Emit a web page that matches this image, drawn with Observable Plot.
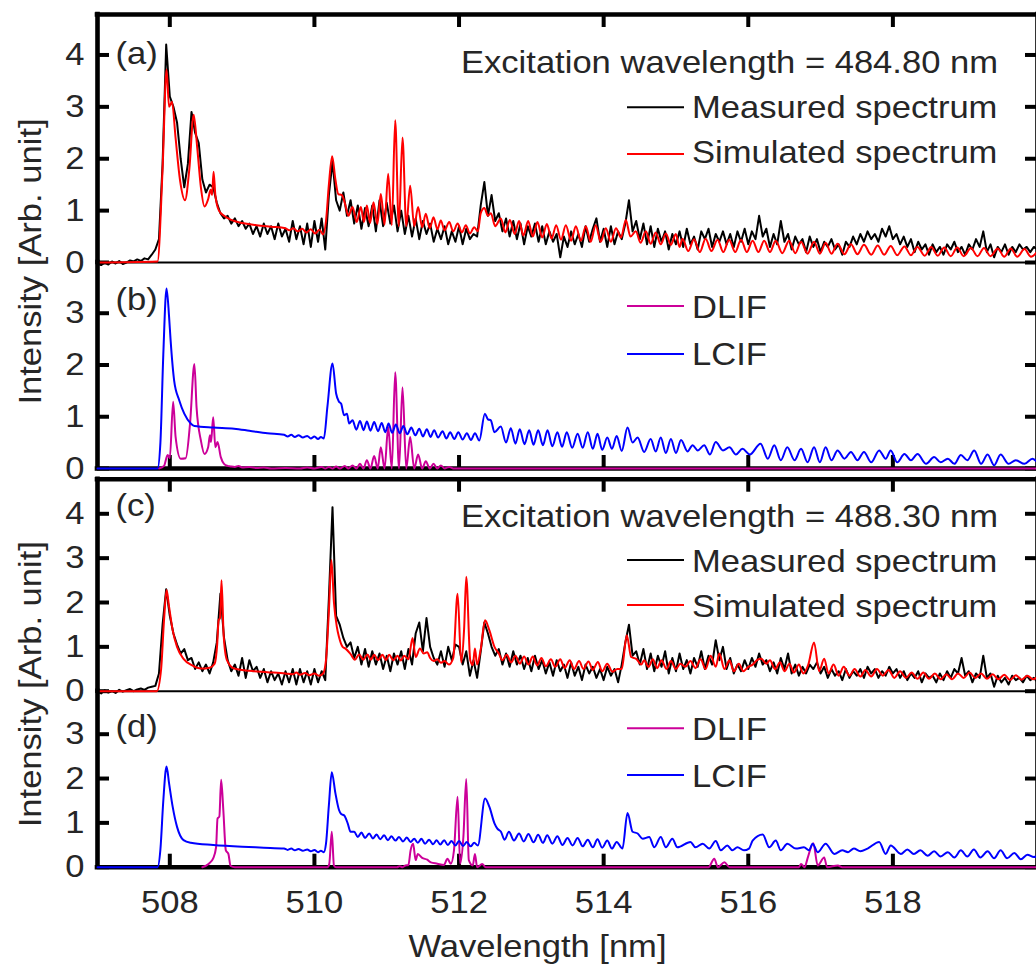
<!DOCTYPE html>
<html><head><meta charset="utf-8">
<script src="https://cdn.jsdelivr.net/npm/d3@7"></script>
<script src="https://cdn.jsdelivr.net/npm/@observablehq/plot@0.6"></script>
<style>
html,body{margin:0;padding:0;background:#fff;overflow:hidden}
#fig{position:relative;width:1036px;height:964px;overflow:hidden;background:#fff}
#fig svg{position:absolute;left:0;top:0;max-width:none!important;background:transparent!important;overflow:visible}
</style></head><body><div id="fig"></div>
<script>
// ---------------- DATA ----------------
const wlRange = [507, 520];
const xTicks = [508, 510, 512, 514, 516, 518];
const yTicksTall = [0, 1, 2, 3, 4];
const yTicksShort = [0, 1, 2, 3];
const xTitle = "Wavelength [nm]";
const yTitle = "Intensity [Arb. unit]";
const panelLabels = ["(a)", "(b)", "(c)", "(d)"];
const excitation = ["Excitation wavelength = 484.80 nm", "Excitation wavelength = 488.30 nm"];
const seriesNames = ["Measured spectrum", "Simulated spectrum", "DLIF", "LCIF"];

// measured spectra sampled every 0.05 nm from 507.00 nm
const measStart = 507, measStep = 0.05;
const measuredA = [
-0.03,-0.05,0.00,-0.04,0.02,-0.02,0.03,-0.03,0.00,0.04,0.02,0.06,0.03,0.08,0.06,0.15,0.25,0.45,1.90,4.20,
3.20,3.00,2.70,2.00,1.45,1.90,2.90,2.50,2.30,1.60,1.35,1.50,1.45,1.15,0.95,0.85,0.90,0.75,0.85,0.70,
0.80,0.65,0.75,0.55,0.70,0.50,0.75,0.55,0.70,0.45,0.75,0.50,0.65,0.40,0.80,0.45,0.70,0.35,0.75,0.30,
0.80,0.40,0.85,0.25,1.30,1.95,1.20,1.00,1.35,0.90,1.20,0.75,1.10,0.65,1.05,0.70,1.10,0.60,1.20,0.70,
1.15,0.75,1.10,0.60,1.00,0.55,0.90,0.50,0.85,0.45,0.80,0.55,0.75,0.40,0.65,0.45,0.70,0.35,0.60,0.40,
0.70,0.35,0.65,0.45,0.55,0.50,1.10,1.55,0.90,1.30,0.80,0.95,0.60,0.85,0.50,0.80,0.45,0.75,0.35,0.70,
0.50,0.75,0.40,0.70,0.35,0.60,0.40,0.55,0.10,0.50,0.30,0.60,0.35,0.55,0.30,0.70,0.40,0.65,0.85,0.40,
0.65,0.30,0.70,0.35,0.60,0.45,0.75,1.20,0.60,0.80,0.45,0.75,0.35,0.70,0.30,0.65,0.40,0.60,0.25,0.55,
0.35,0.60,0.30,0.65,0.35,0.50,0.25,0.60,0.45,0.65,0.30,0.55,0.40,0.60,0.35,0.55,0.30,0.60,0.40,0.65,
0.35,0.60,0.45,0.90,0.50,0.65,0.30,0.55,0.35,0.80,0.40,0.55,0.25,0.50,0.35,0.45,0.20,0.50,0.30,0.45,
0.20,0.40,0.30,0.45,0.25,0.35,0.15,0.40,0.30,0.50,0.35,0.55,0.40,0.60,0.45,0.55,0.40,0.65,0.50,0.70,
0.45,0.55,0.35,0.50,0.30,0.45,0.20,0.40,0.25,0.35,0.15,0.35,0.20,0.30,0.15,0.35,0.25,0.40,0.20,0.30,
0.15,0.35,0.25,0.45,0.30,0.60,0.20,0.35,0.10,0.30,0.20,0.35,0.15,0.30,0.20,0.35,0.25,0.30,0.20,0.30,0.25];
const measuredC = [
-0.02,-0.05,0.02,-0.03,0.00,-0.04,0.03,-0.01,0.02,0.05,0.00,0.04,0.06,0.03,0.08,0.10,0.12,0.40,1.50,2.30,
1.70,1.30,1.05,0.85,0.95,0.70,0.75,0.50,0.65,0.45,0.60,0.40,0.65,1.10,2.20,1.20,0.70,0.45,0.60,0.35,
0.75,0.30,0.70,0.45,0.55,0.30,0.50,0.20,0.45,0.25,0.40,0.15,0.45,0.20,0.50,0.15,0.50,0.20,0.45,0.15,
0.50,0.20,0.45,0.25,2.10,4.15,1.70,1.50,1.20,1.00,1.10,0.75,1.00,0.60,0.95,0.55,0.90,0.60,0.85,0.50,
0.80,0.45,0.85,0.60,0.90,0.50,0.95,0.60,1.30,1.55,0.90,1.65,1.00,0.75,0.60,0.90,0.55,1.00,0.70,1.05,
1.00,0.60,0.90,0.35,0.70,0.30,0.90,1.55,1.30,1.00,0.80,0.95,0.60,0.85,0.55,0.90,0.60,0.80,0.50,0.75,
0.45,0.80,0.50,0.70,0.40,0.65,0.35,0.70,0.45,0.60,0.30,0.65,0.35,0.55,0.25,0.60,0.40,0.55,0.30,0.50,
0.25,0.55,0.35,0.50,0.20,0.60,1.10,1.50,0.80,0.90,0.60,0.95,0.50,0.85,0.45,0.80,0.55,0.90,0.40,0.75,
0.45,0.85,0.50,0.70,0.40,0.75,0.55,0.90,0.50,0.80,0.60,1.15,0.70,1.00,0.50,0.75,0.40,0.60,0.45,0.70,
0.50,0.75,0.55,0.85,0.60,0.70,0.45,0.65,0.40,0.75,0.50,0.85,0.40,0.60,0.35,0.55,0.40,0.60,0.50,0.65,
0.40,0.55,0.30,0.50,0.35,0.45,0.25,0.50,0.30,0.45,0.35,0.50,0.30,0.55,0.40,0.50,0.30,0.45,0.35,0.55,
0.40,0.50,0.30,0.45,0.25,0.40,0.30,0.45,0.20,0.40,0.30,0.35,0.20,0.40,0.25,0.45,0.30,0.50,0.40,0.75,
0.35,0.45,0.20,0.40,0.30,0.80,0.30,0.40,0.10,0.35,0.20,0.30,0.15,0.35,0.25,0.30,0.20,0.35,0.25,0.30,0.20];

// simulated spectra: [wavelength nm, intensity] at maxima / minima
const simulatedA = [[507.0,0],[507.83,0.02],[507.90,1.8],[507.955,3.72],[507.99,3.0],[508.03,3.1],[508.08,2.4],[508.14,1.6],[508.21,1.2],[508.27,1.8],[508.33,2.85],[508.38,2.2],[508.43,1.45],[508.48,1.08],[508.53,1.22],[508.565,1.4],[508.585,1.3],[508.605,1.75],[508.63,1.3],[508.68,1.0],[508.75,0.9],[508.85,0.82],[509.0,0.76],[509.2,0.72],[509.4,0.69],[509.6,0.66],[509.65,0.62],[509.71,0.66],[509.77,0.6],[509.83,0.65],[509.89,0.58],[509.95,0.64],[510.01,0.56],[510.07,0.63],[510.12,0.54],[510.16,0.8],[510.20,1.5],[510.245,2.05],[510.29,1.6],[510.33,1.32],[510.38,1.3],[510.42,1.15],[510.47,0.9],
[510.527,1.07],[510.585,0.78],[510.642,1.07],[510.685,0.78],[510.725,1.1],[510.77,0.76],[510.817,1.16],[510.87,0.74],[510.918,1.32],[510.97,0.73],[511.02,1.71],[511.07,0.72],[511.117,2.74],[511.167,0.7],[511.218,2.41],[511.27,0.7],[511.324,1.48],[511.38,0.7],[511.434,1.07],[511.49,0.68],[511.54,0.94],[511.595,0.66],[511.647,0.87],[511.70,0.64],[511.748,0.81],[511.80,0.62],[511.864,0.78],[511.92,0.6],[511.98,0.75],[512.04,0.58],[512.094,0.72],[512.15,0.56],[512.21,0.68],[512.26,0.6],[512.30,0.95],[512.35,1.05],[512.40,0.9],[512.44,0.95],[512.50,0.7],
[512.578,0.85],[512.64,0.58],[512.703,0.82],[512.77,0.55],[512.83,0.8],[512.89,0.52],[512.956,0.8],[513.02,0.5],[513.085,0.78],[513.15,0.48],[513.214,0.74],[513.28,0.46],[513.343,0.72],[513.41,0.44],[513.477,0.72],[513.55,0.42],[513.615,0.7],[513.685,0.42],[513.754,0.7],[513.82,0.4],[513.89,0.72],[513.96,0.4],[514.03,0.66],[514.10,0.4],[514.17,0.66],[514.24,0.48],[514.307,0.82],[514.37,0.5],[514.445,0.6],[514.51,0.38],[514.584,0.6],[514.65,0.36],[514.72,0.58],[514.79,0.35],[514.86,0.56],[514.93,0.34],[514.998,0.55],[515.05,0.3],[515.09,0.46],
[515.17,0.22],[515.25,0.45],[515.33,0.2],[515.41,0.46],[515.49,0.22],[515.575,0.44],[515.655,0.2],[515.735,0.44],[515.82,0.2],[515.90,0.44],[515.98,0.2],[516.06,0.42],[516.14,0.2],[516.22,0.42],[516.30,0.2],[516.38,0.42],[516.47,0.18],[516.565,0.42],[516.65,0.18],[516.73,0.40],[516.82,0.17],[516.91,0.40],[516.99,0.17],[517.07,0.38],[517.15,0.17],[517.235,0.36],[517.33,0.16],[517.42,0.35],[517.51,0.16],[517.60,0.34],[517.70,0.15],[517.79,0.33],[517.88,0.15],[517.97,0.32],[518.06,0.14],[518.16,0.31],[518.25,0.14],[518.34,0.3],[518.44,0.13],[518.53,0.3],[518.62,0.13],[518.71,0.29],[518.80,0.12],[518.89,0.29],[518.98,0.12],[519.08,0.28],[519.17,0.12],[519.26,0.28],[519.35,0.12],[519.45,0.27],[519.54,0.11],[519.63,0.27],[519.72,0.11],[519.82,0.26],[519.91,0.11],[520.0,0.22]];

const simulatedC = [[507.0,0],[507.82,0],[507.88,0.5],[507.92,1.6],[507.955,2.28],[507.99,1.9],[508.04,1.37],[508.10,1.0],[508.19,0.73],[508.31,0.58],[508.43,0.51],[508.55,0.53],[508.62,0.62],[508.655,1.05],[508.675,1.6],[508.695,1.65],[508.715,2.5],[508.745,1.25],[508.79,0.7],[508.89,0.51],[509.1,0.46],[509.35,0.43],[509.6,0.4],[509.7,0.38],[509.75,0.42],[509.8,0.37],[509.87,0.41],[509.93,0.36],[510.0,0.4],[510.06,0.35],[510.12,0.4],[510.16,0.7],[510.20,1.8],[510.235,2.96],[510.27,2.0],[510.31,1.45],[510.34,1.22],[510.39,1.0],[510.43,0.96],
[510.503,0.83],[510.56,0.71],[510.618,0.83],[510.675,0.71],[510.734,0.83],[510.78,0.71],[510.826,0.82],[510.88,0.7],[510.94,0.82],[510.99,0.7],[511.033,0.82],[511.09,0.7],[511.149,0.8],[511.195,0.69],[511.24,0.8],[511.30,0.72],[511.357,1.2],[511.40,0.77],[511.46,0.96],[511.51,0.85],[511.56,0.88],[511.60,0.75],[511.65,0.68],[511.70,0.72],[511.75,0.64],[511.80,0.68],[511.86,0.6],[511.92,0.75],[511.98,2.2],[512.03,0.65],[512.07,1.4],[512.10,2.58],[512.155,0.7],[512.19,0.59],[512.22,0.96],[512.25,0.6],[512.30,0.95],[512.36,1.6],[512.42,1.37],[512.49,1.0],[512.55,0.85],
[512.60,0.7],[512.66,0.82],[512.72,0.65],[512.78,0.8],[512.84,0.62],[512.90,0.78],[512.96,0.6],[513.02,0.78],[513.08,0.58],[513.14,0.75],[513.20,0.56],[513.27,0.72],[513.33,0.55],[513.40,0.72],[513.46,0.52],[513.53,0.7],[513.59,0.5],[513.66,0.68],[513.72,0.5],[513.79,0.67],[513.85,0.48],[513.92,0.66],[513.98,0.45],[514.05,0.62],[514.12,0.44],[514.19,0.5],[514.25,0.5],[514.32,1.26],[514.38,0.77],[514.45,0.73],[514.52,0.6],[514.56,0.7],[514.62,0.55],[514.68,0.72],[514.74,0.52],[514.80,0.7],[514.87,0.5],[514.93,0.68],[515.0,0.5],[515.06,0.62],[515.13,0.55],[515.2,0.68],[515.27,0.52],[515.34,0.72],[515.41,0.5],[515.48,0.8],[515.55,0.55],[515.6,0.85],[515.67,0.5],[515.74,0.7],[515.8,0.45],[515.87,0.62],[515.93,0.45],[516.0,0.55],[516.06,0.6],[516.12,0.7],[516.18,0.73],[516.25,0.62],[516.3,0.7],[516.37,0.5],[516.44,0.65],[516.5,0.45],[516.57,0.62],[516.63,0.42],[516.7,0.6],[516.76,0.4],[516.83,0.6],[516.91,1.1],[516.98,0.45],[517.05,0.73],[517.11,0.4],[517.18,0.6],[517.25,0.35],[517.32,0.55],[517.4,0.35],[517.47,0.5],[517.55,0.33],[517.62,0.48],[517.7,0.33],[517.78,0.5],[517.86,0.35],[517.94,0.48],[518.02,0.3],[518.1,0.45],[518.18,0.3],[518.26,0.42],[518.34,0.28],[518.42,0.42],[518.5,0.28],[518.58,0.4],[518.66,0.27],[518.74,0.38],[518.82,0.27],[518.9,0.4],[518.98,0.3],[519.06,0.42],[519.14,0.3],[519.22,0.4],[519.3,0.28],[519.38,0.38],[519.46,0.27],[519.54,0.37],[519.62,0.25],[519.7,0.36],[519.78,0.26],[519.86,0.35],[519.94,0.27],[520.0,0.32]];

const lcifB = [[507.0,0],[507.83,0],[507.87,0.5],[507.91,2.2],[507.955,3.48],[507.99,2.93],[508.01,2.5],[508.06,1.7],[508.13,1.32],[508.2,1.06],[508.29,0.87],[508.34,0.82],[508.6,0.79],[508.89,0.77],[509.1,0.73],[509.35,0.68],[509.58,0.65],[509.63,0.62],[509.68,0.65],[509.73,0.61],[509.78,0.64],[509.84,0.6],[509.9,0.63],[509.95,0.58],[510.0,0.62],[510.05,0.57],[510.09,0.61],[510.13,0.58],[510.18,1.2],[510.25,2.03],[510.30,1.45],[510.34,1.29],[510.37,1.25],[510.41,1.03],[510.45,1.06],[510.48,0.87],
[510.527,0.93],[510.58,0.75],[510.63,0.92],[510.68,0.74],[510.725,0.91],[510.775,0.73],[510.826,0.9],[510.88,0.72],[510.93,0.88],[510.98,0.7],[511.025,0.87],[511.075,0.69],[511.126,0.85],[511.18,0.68],[511.23,0.82],[511.285,0.66],[511.34,0.79],[511.395,0.64],[511.45,0.77],[511.50,0.62],[511.555,0.76],[511.605,0.61],[511.656,0.74],[511.71,0.6],[511.772,0.72],[511.825,0.58],[511.877,0.7],[511.935,0.57],[511.99,0.7],[512.05,0.56],[512.108,0.68],[512.165,0.55],[512.22,0.68],[512.28,0.54],[512.357,1.06],[512.40,0.95],[512.44,0.93],[512.49,0.7],
[512.578,0.81],[512.65,0.5],[512.716,0.78],[512.78,0.48],[512.84,0.76],[512.905,0.47],[512.97,0.74],[513.03,0.46],[513.094,0.74],[513.16,0.45],[513.224,0.74],[513.29,0.43],[513.36,0.7],[513.425,0.42],[513.49,0.7],[513.565,0.4],[513.64,0.67],[513.71,0.4],[513.78,0.7],[513.85,0.38],[513.915,0.67],[513.98,0.36],[514.05,0.6],[514.115,0.38],[514.18,0.63],[514.25,0.34],[514.33,0.79],[514.40,0.5],[514.47,0.6],[514.56,0.32],[514.65,0.57],[514.72,0.33],[514.79,0.6],[514.86,0.3],[514.93,0.57],[515.0,0.3],[515.07,0.55],
[515.16,0.33],[515.23,0.45],[515.3,0.35],[515.39,0.45],[515.47,0.27],[515.55,0.51],[515.65,0.35],[515.74,0.41],[515.83,0.27],[515.92,0.38],[516.02,0.27],[516.17,0.48],[516.27,0.19],[516.36,0.45],[516.45,0.16],[516.54,0.41],[516.64,0.16],[516.73,0.38],[516.82,0.12],[516.91,0.41],[516.99,0.12],[517.07,0.41],[517.15,0.16],[517.235,0.35],[517.33,0.19],[517.42,0.32],[517.51,0.16],[517.6,0.32],[517.7,0.12],[517.81,0.35],[517.9,0.19],[517.97,0.35],[518.06,0.12],[518.16,0.28],[518.25,0.16],[518.34,0.28],[518.46,0.09],[518.57,0.22],[518.66,0.12],[518.76,0.19],[518.85,0.09],[518.94,0.26],[519.03,0.16],[519.125,0.35],[519.22,0.09],[519.31,0.27],[519.4,0.06],[519.49,0.27],[519.6,0.09],[519.7,0.16],[519.82,0.09],[519.93,0.19],[520.0,0.12]];

const dlifB = [[507.85,0],[507.92,0.05],[507.97,0.26],[508.0,0.2],[508.046,1.29],[508.08,0.61],[508.15,0.19],[508.22,0.2],[508.28,0.87],[508.34,2.02],[508.37,1.18],[508.43,0.54],[508.48,0.28],[508.53,0.41],[508.555,0.64],[508.57,0.51],[508.60,0.99],[508.63,0.41],[508.66,0.51],[508.705,0.22],[508.75,0.09],[508.80,0.05],[508.84,0.04],[508.9,0.03],[508.95,0.05],[509.0,0.02],[509.1,0.03],[509.2,0.01],[509.3,0.02],[509.4,0.0],[509.6,0.01],[509.8,0.0],[509.9,0.02],[510.0,0.0],[510.1,0.03],[510.15,0.0],[510.2,0.03],[510.25,0.0],[510.3,0.04],[510.35,0.0],[510.42,0.05],[510.47,0.0],[510.527,0.06],[510.58,0.0],[510.63,0.09],[510.68,0.0],[510.725,0.16],[510.775,0.0],[510.826,0.24],[510.875,0.0],[510.918,0.41],[510.97,0.0],[511.02,0.8],[511.07,0.0],[511.117,1.86],[511.17,0.0],[511.218,1.57],[511.27,0.0],[511.324,0.61],[511.38,0.0],[511.434,0.27],[511.49,0.0],[511.54,0.14],[511.595,0.0],[511.647,0.09],[511.7,0.0],[511.748,0.06],[511.8,0.0],[511.864,0.03],[511.92,0.0],[520.0,0.0]];

const lcifD = [[507.0,0],[507.83,0],[507.87,0.4],[507.91,1.5],[507.955,2.27],[507.99,1.89],[508.04,1.36],[508.10,0.91],[508.19,0.61],[508.29,0.55],[508.6,0.5],[509.0,0.46],[509.3,0.44],[509.58,0.42],[509.63,0.39],[509.68,0.42],[509.73,0.38],[509.78,0.41],[509.84,0.37],[509.9,0.4],[509.95,0.36],[510.0,0.39],[510.05,0.34],[510.09,0.37],[510.13,0.34],[510.16,0.53],[510.20,1.4],[510.24,2.14],[510.29,1.67],[510.34,1.29],[510.37,1.2],[510.41,1.17],[510.46,0.99],[510.50,0.8],
[510.55,0.8],[510.60,0.68],[510.65,0.78],[510.70,0.66],[510.757,0.76],[510.81,0.65],[510.86,0.74],[510.91,0.63],[510.964,0.72],[511.015,0.61],[511.066,0.7],[511.12,0.6],[511.17,0.68],[511.225,0.58],[511.278,0.67],[511.33,0.57],[511.38,0.64],[511.43,0.55],[511.48,0.64],[511.53,0.53],[511.586,0.62],[511.64,0.52],[511.69,0.61],[511.74,0.51],[511.794,0.61],[511.845,0.5],[511.896,0.59],[511.95,0.49],[512.0,0.59],[512.055,0.48],[512.108,0.57],[512.16,0.47],[512.21,0.55],[512.26,0.49],[512.36,1.55],[512.42,1.36],[512.49,0.99],[512.53,0.87],[512.58,0.8],[512.63,0.62],
[512.69,0.8],[512.76,0.6],[512.83,0.76],[512.895,0.58],[512.96,0.75],[513.03,0.56],[513.094,0.73],[513.16,0.55],[513.22,0.72],[513.29,0.53],[513.36,0.7],[513.43,0.5],[513.5,0.66],[513.57,0.49],[513.64,0.66],[513.71,0.47],[513.78,0.62],[513.85,0.45],[513.915,0.63],[513.98,0.44],[514.05,0.6],[514.115,0.42],[514.18,0.57],[514.26,0.42],[514.33,1.22],[514.40,0.8],[514.47,0.76],[514.54,0.64],[514.63,0.68],[514.70,0.45],[514.79,0.68],[514.86,0.45],[514.95,0.64],[515.02,0.45],[515.2,0.57],[515.27,0.45],[515.37,0.53],[515.46,0.42],[515.55,0.59],[515.62,0.38],[515.71,0.49],[515.78,0.38],[515.85,0.45],[515.94,0.38],[516.01,0.42],[516.06,0.6],[516.20,0.74],[516.29,0.45],[516.38,0.6],[516.45,0.38],[516.54,0.53],[516.66,0.42],[516.77,0.45],[516.84,0.38],[516.89,0.53],[516.96,0.34],[517.07,0.53],[517.19,0.3],[517.30,0.38],[517.38,0.34],[517.46,0.42],[517.55,0.36],[517.65,0.42],[517.81,0.57],[517.90,0.3],[517.97,0.49],
[518.11,0.3],[518.2,0.4],[518.29,0.3],[518.38,0.38],[518.48,0.26],[518.57,0.36],[518.66,0.24],[518.76,0.34],[518.85,0.22],[518.94,0.38],[519.03,0.24],[519.12,0.4],[519.21,0.22],[519.31,0.36],[519.4,0.2],[519.49,0.38],[519.58,0.2],[519.68,0.32],[519.77,0.18],[519.86,0.28],[519.95,0.23],[520.0,0.25]];

const dlifD = [[508.45,0],[508.54,0.08],[508.60,0.2],[508.64,0.45],[508.66,1.1],[508.685,1.14],[508.71,1.97],[508.74,1.29],[508.775,0.38],[508.81,0.3],[508.84,0.03],[508.9,0],[510.18,0],[510.205,0.07],[510.24,0.8],[510.27,0.04],[510.3,0],[511.14,0],[511.18,0.02],[511.22,0.0],[511.26,0.04],[511.3,0.05],[511.33,0.38],[511.365,0.53],[511.40,0.16],[511.43,0.3],[511.49,0.21],[511.56,0.17],[511.61,0.11],[511.70,0.08],[511.79,0.05],[511.84,0.19],[511.886,0.08],[511.93,0.38],[511.98,1.59],[512.015,0.08],[512.06,0.68],[512.10,1.99],[512.135,0.16],[512.19,0.04],[512.22,0.3],[512.25,0.0],[512.32,0.07],[512.37,0.0],[515.45,0],[515.53,0.19],[515.58,0.0],[515.67,0.11],[515.74,0.0],[516.7,0],[516.73,0.07],[516.78,0.0],[516.82,0.2],[516.90,0.54],[516.96,0.04],[517.05,0.22],[517.09,0.0],[517.24,0.04],[517.3,0],[520.0,0]];

// ---------------- STYLE / LAYOUT ----------------
const FONT = "'Liberation Sans', Arial, Helvetica, sans-serif";
const TEXT = "#262626";
const COLORS = {measured: "#000000", simulated: "#ff0000", dlif: "#cc0099", lcif: "#0000ff"};
const W = 1040, H = 964, ML = 97, MR = 3;
const FRAME_W = W - ML - MR;
const STRETCH = 1.08;
const TICK_X = 13, TICK_Y = 12;

const fig = document.getElementById("fig");
const measuredSeries = arr => arr.map((v, i) => [measStart + i * measStep, v]);
const intFmt = d => String(d);

function panel(cfg) {
  const {top, bottom, yMax, yTicks, tall, label, labelDy, lines, xLabels, title, titleDy} = cfg;
  const frameH = bottom - top;
  const marks = [];
  // frame lines
  marks.push(Plot.ruleX(wlRange, {stroke: "#000", strokeWidth: 4.6, strokeLinecap: "square"}));
  if (tall) {
    marks.push(Plot.ruleY([yMax], {stroke: "#000", strokeWidth: 4.6, strokeLinecap: "square"}));
    marks.push(Plot.ruleY([0], {stroke: "#000", strokeWidth: 2}));
    marks.push(Plot.tickX(xTicks, {x: d => d, stroke: "#000", strokeWidth: 4, insetBottom: frameH - TICK_X}));
  } else {
    marks.push(Plot.ruleY([0], {stroke: "#000", strokeWidth: 4.6, strokeLinecap: "square"}));
    marks.push(Plot.tickX(xTicks, {x: d => d, stroke: "#000", strokeWidth: 4, insetTop: frameH - TICK_X}));
  }
  // inward y ticks on both sides
  marks.push(Plot.tickY(yTicks, {y: d => d, stroke: "#000", strokeWidth: 4, insetRight: FRAME_W - TICK_Y}));
  marks.push(Plot.tickY(yTicks, {y: d => d, stroke: "#000", strokeWidth: 4, insetLeft: FRAME_W - TICK_Y}));
  marks.push(Plot.axisY(yTicks, {anchor: "left", tickSize: 0, tickPadding: 13, tickFormat: intFmt, fill: TEXT, label: null}));
  if (xLabels) {
    marks.push(Plot.axisX(xTicks, {anchor: "bottom", tickSize: 0, tickPadding: 23, tickFormat: intFmt, fill: TEXT, label: null}));
    marks.push(Plot.text([xTitle], {frameAnchor: "bottom", dx: -30, dy: 67, lineAnchor: "top", textAnchor: "middle", fill: TEXT}));
  }
  for (const l of lines) {
    marks.push(Plot.line(l.data, {stroke: l.color, strokeWidth: 2, curve: l.curve || "linear"}));
  }
  marks.push(Plot.text([label], {frameAnchor: "top-left", dx: 18, dy: labelDy, lineAnchor: "top", textAnchor: "start", fill: TEXT}));
  if (title) marks.push(Plot.text([yTitle], {frameAnchor: "left", rotate: -90, dx: -67, dy: titleDy, textAnchor: "middle", fill: TEXT}));
  const svg = Plot.plot({
    width: W, height: H,
    marginLeft: ML, marginRight: MR, marginTop: top, marginBottom: H - bottom,
    x: {domain: wlRange, axis: null}, y: {domain: [0, yMax], axis: null},
    style: {fontFamily: FONT, fontSize: "32px", background: "transparent", overflow: "visible", maxWidth: "none"},
    marks
  });
  fig.appendChild(svg);
}

panel({top: 14, bottom: 262, yMax: 4.78, yTicks: yTicksTall, tall: true, label: panelLabels[0], labelDy: 27, title: true, titleDy: 123,
  lines: [{data: measuredSeries(measuredA), color: COLORS.measured}, {data: simulatedA, color: COLORS.simulated, curve: "monotone-x"}]});
panel({top: 262, bottom: 468, yMax: 3.98, yTicks: yTicksShort, tall: false, label: panelLabels[1], labelDy: 25,
  lines: [{data: dlifB, color: COLORS.dlif, curve: "monotone-x"}, {data: lcifB, color: COLORS.lcif, curve: "monotone-x"}]});
panel({top: 478.7, bottom: 690.7, yMax: 4.78, yTicks: yTicksTall, tall: true, label: panelLabels[2], labelDy: 14.5, title: true, titleDy: 99,
  lines: [{data: measuredSeries(measuredC), color: COLORS.measured}, {data: simulatedC, color: COLORS.simulated, curve: "monotone-x"}]});
panel({top: 690.7, bottom: 866.7, yMax: 3.97, yTicks: yTicksShort, tall: false, label: panelLabels[3], labelDy: 23, xLabels: true,
  lines: [{data: dlifD, color: COLORS.dlif, curve: "monotone-x"}, {data: lcifD, color: COLORS.lcif, curve: "monotone-x"}]});

// legends (layout in px)
const legendLayout = [
  {title: excitation[0], baseline: 73, rows: [[seriesNames[0], COLORS.measured, 118.3, 107.3], [seriesNames[1], COLORS.simulated, 163.3, 154]]},
  {rows: [[seriesNames[2], COLORS.dlif, 318.3, 306], [seriesNames[3], COLORS.lcif, 365, 354]]},
  {title: excitation[1], baseline: 526.7, rows: [[seriesNames[0], COLORS.measured, 571.7, 560], [seriesNames[1], COLORS.simulated, 616.7, 605]]},
  {rows: [[seriesNames[2], COLORS.dlif, 740, 728.3], [seriesNames[3], COLORS.lcif, 786.7, 775]]}
];
const leg = d3.select(fig).append("svg").attr("width", 1036).attr("height", 964)
  .style("font-family", FONT).style("font-size", "32px");
for (const L of legendLayout) {
  if (L.title) leg.append("text").attr("x", 998).attr("y", L.baseline).attr("text-anchor", "end").attr("fill", TEXT).text(L.title);
  for (const [name, color, base, ly] of L.rows) {
    leg.append("line").attr("x1", 627).attr("x2", 684).attr("y1", ly).attr("y2", ly).attr("stroke", color).attr("stroke-width", 2);
    leg.append("text").attr("x", 692).attr("y", base).attr("fill", TEXT).text(name);
  }
}

// widen glyphs to match the reference typeface proportions
fig.querySelectorAll("text").forEach(t => {
  const len = t.getComputedTextLength();
  if (len > 0) { t.setAttribute("textLength", (len * STRETCH).toFixed(1)); t.setAttribute("lengthAdjust", "spacingAndGlyphs"); }
});
</script></body></html>
